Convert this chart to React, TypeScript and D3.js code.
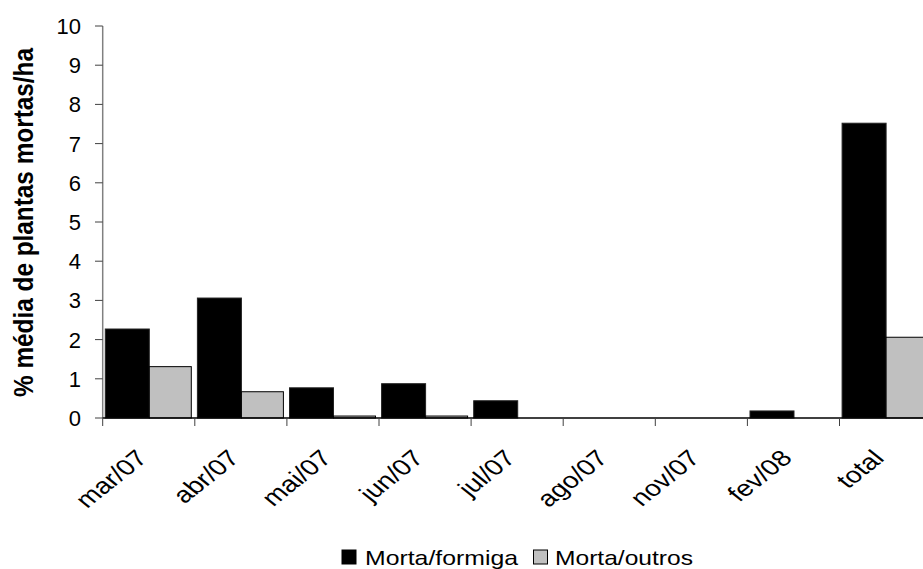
import React from "react";
import * as d3 from "d3";

const categories = ["mar/07", "abr/07", "mai/07", "jun/07", "jul/07", "ago/07", "nov/07", "fev/08", "total"];
const mortaFormiga = [2.27, 3.06, 0.77, 0.875, 0.44, 0, 0, 0.18, 7.52];
const mortaOutros = [1.31, 0.67, 0.05, 0.05, 0, 0, 0, 0, 2.06];
const yTicks = [0, 1, 2, 3, 4, 5, 6, 7, 8, 9, 10];
const seriesNames = ["Morta/formiga", "Morta/outros"];

const W = 923;
const H = 569;
const FONT = "'Liberation Sans', Arial, sans-serif";

export default function App() {
  const x0 = 102.7;
  const band = 92.1;
  const x = d3.scaleBand<string>().domain(categories).range([x0, x0 + band * categories.length]).padding(0);
  const y = d3.scaleLinear().domain([0, 10]).range([418, 26]);
  const bw1 = 44;
  const bw2 = 42;
  const off = 2.6;
  const y0 = y(0);

  return (
    <svg width={W} height={H} style={{ position: "absolute", left: 0, top: 0, background: "#fff" }} fontFamily={FONT}>
      {categories.map((c, i) => {
        const bx = (x(c) as number) + off;
        const v1 = mortaFormiga[i];
        const v2 = mortaOutros[i];
        return (
          <g key={c}>
            {v1 > 0 && (
              <rect x={bx} y={y(v1)} width={bw1} height={y0 - y(v1)} fill="#000" stroke="#222" strokeWidth={1} />
            )}
            {v2 > 0 && (
              <rect x={bx + bw1} y={y(v2)} width={bw2} height={y0 - y(v2)} fill="#c0c0c0" stroke="#000" strokeWidth={1} />
            )}
          </g>
        );
      })}
      <line x1={x0} x2={x0} y1={y(10)} y2={y0} stroke="#808080" strokeWidth={1.5} />
      {yTicks.map((t) => (
        <g key={t}>
          <line x1={95} x2={x0} y1={y(t)} y2={y(t)} stroke="#404040" strokeWidth={1} />
          <text x={81} y={y(t) + 8} textAnchor="end" fontSize={22} fill="#000">
            {t}
          </text>
        </g>
      ))}
      <line x1={x0} x2={W} y1={y0} y2={y0} stroke="#000" strokeWidth={1.5} />
      {categories.map((c) => (
        <line key={"t" + c} x1={x(c) as number} x2={x(c) as number} y1={y0} y2={y0 + 8} stroke="#404040" strokeWidth={1} />
      ))}
      {categories.map((c) => {
        const cx = (x(c) as number) + band / 2;
        const ty = 459.5;
        return (
          <text
            key={"l" + c}
            x={0}
            y={0}
            textAnchor="end"
            fontSize={22.5}
            fill="#000"
            transform={`translate(${cx} ${ty}) scale(1.25 1) rotate(-45)`}
          >
            {c}
          </text>
        );
      })}
      <text
        x={0}
        y={0}
        transform="translate(33 222.5) scale(1.12 1) rotate(-90)"
        textAnchor="middle"
        fontSize={24}
        fontWeight="bold"
        fill="#000"
        textLength={349}
        lengthAdjust="spacingAndGlyphs"
      >
        % média de plantas mortas/ha
      </text>
      <rect x={342} y={550} width={14} height={14} fill="#000" stroke="#000" strokeWidth={1} />
      <text x={365} y={565} fontSize={21} fill="#000" textLength={153} lengthAdjust="spacingAndGlyphs">
        {seriesNames[0]}
      </text>
      <rect x={533.5} y={550} width={14} height={14} fill="#c0c0c0" stroke="#000" strokeWidth={1} />
      <text x={555} y={565} fontSize={21} fill="#000" textLength={138} lengthAdjust="spacingAndGlyphs">
        {seriesNames[1]}
      </text>
    </svg>
  );
}
